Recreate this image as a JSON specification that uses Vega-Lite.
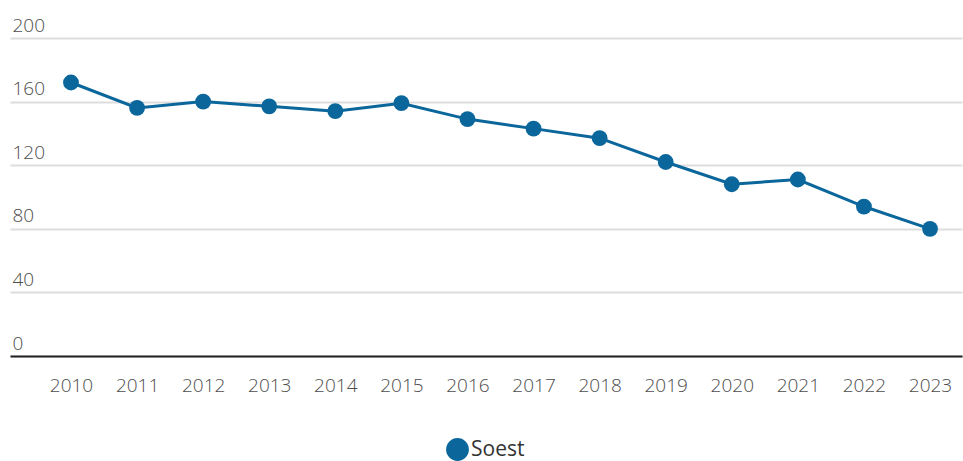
{
  "$schema": "https://vega.github.io/schema/vega-lite/v6.json",
  "autosize": {"type": "none"},
  "width": 952,
  "height": 318,
  "padding": {"left": 10, "top": 38, "right": 1, "bottom": 105},
  "background": "white",
  "data": {
    "values": [
      {"year": 2010, "value": 172, "series": "Soest"},
      {"year": 2011, "value": 156, "series": "Soest"},
      {"year": 2012, "value": 160, "series": "Soest"},
      {"year": 2013, "value": 157, "series": "Soest"},
      {"year": 2014, "value": 154, "series": "Soest"},
      {"year": 2015, "value": 159, "series": "Soest"},
      {"year": 2016, "value": 149, "series": "Soest"},
      {"year": 2017, "value": 143, "series": "Soest"},
      {"year": 2018, "value": 137, "series": "Soest"},
      {"year": 2019, "value": 122, "series": "Soest"},
      {"year": 2020, "value": 108, "series": "Soest"},
      {"year": 2021, "value": 111, "series": "Soest"},
      {"year": 2022, "value": 94, "series": "Soest"},
      {"year": 2023, "value": 80, "series": "Soest"}
    ]
  },
  "config": {
    "view": {"stroke": null},
    "font": "Open Sans"
  },
  "encoding": {
    "x": {
      "field": "year",
      "type": "quantitative",
      "scale": {"domain": [2009.077, 2023.484], "nice": false, "zero": false},
      "axis": {
        "title": null,
        "values": [2010, 2011, 2012, 2013, 2014, 2015, 2016, 2017, 2018, 2019, 2020, 2021, 2022, 2023],
        "format": "d",
        "grid": false,
        "ticks": false,
        "domainColor": "#222222",
        "domainWidth": 2,
        "labelFont": "Open Sans",
        "labelFontSize": 19,
        "labelFontWeight": 300,
        "labelColor": "#4d4d4d",
        "labelPadding": 29,
        "labelBaseline": "middle"
      }
    },
    "y": {
      "field": "value",
      "type": "quantitative",
      "scale": {"domain": [0, 200], "nice": false},
      "axis": {
        "title": null,
        "values": [0, 40, 80, 120, 160, 200],
        "domain": false,
        "ticks": false,
        "grid": true,
        "gridColor": "#dddddd",
        "gridWidth": 2,
        "labelAlign": "left",
        "labelBaseline": "alphabetic",
        "labelPadding": -2,
        "labelOffset": -7,
        "labelFont": "Open Sans",
        "labelFontSize": 19,
        "labelFontWeight": 300,
        "labelColor": "#4d4d4d"
      }
    },
    "color": {
      "field": "series",
      "type": "nominal",
      "scale": {"range": ["#0b679b"]},
      "legend": {
        "title": null,
        "orient": "none",
        "legendX": 436,
        "legendY": 400,
        "direction": "horizontal",
        "symbolType": "circle",
        "symbolSize": 520,
        "symbolStrokeWidth": 0,
        "symbolOpacity": 1,
        "labelFont": "Open Sans",
        "labelFontSize": 21,
        "labelColor": "#333333",
        "labelOffset": 2
      }
    }
  },
  "layer": [
    {"mark": {"type": "line", "strokeWidth": 3}},
    {"mark": {"type": "point", "filled": true, "size": 250, "opacity": 1}}
  ]
}
